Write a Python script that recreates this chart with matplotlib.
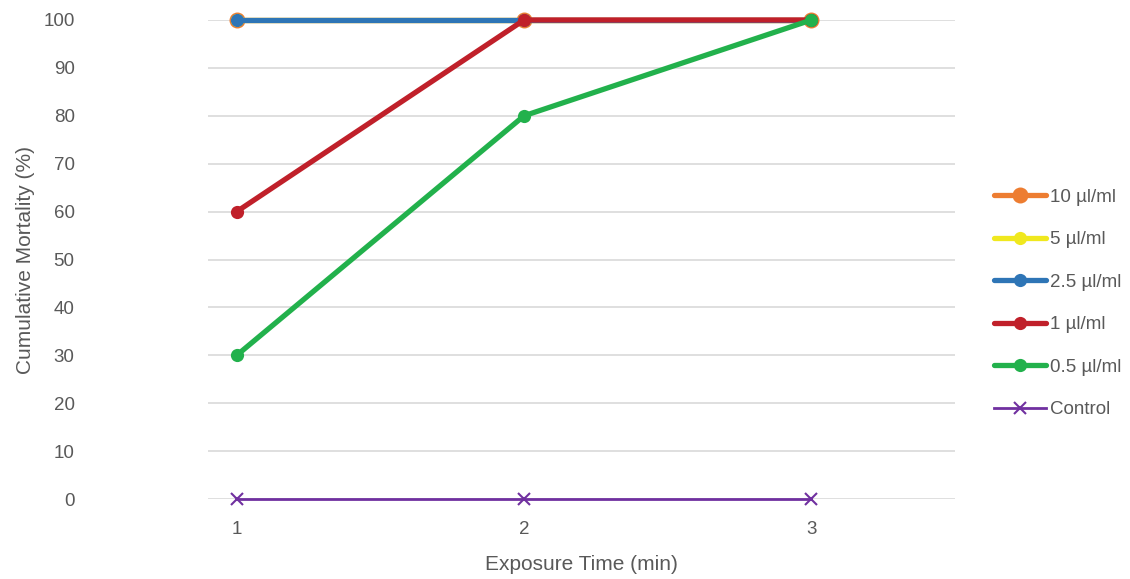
import matplotlib
matplotlib.use("Agg")
import matplotlib.pyplot as plt
from matplotlib import font_manager

times = [1, 2, 3]
series_names = ["10 µl/ml", "5 µl/ml", "2.5 µl/ml", "1 µl/ml", "0.5 µl/ml", "Control"]
s10 = [100, 100, 100]
s5 = [100, 100, 100]
s25 = [100, 100, 100]
s1 = [60, 100, 100]
s05 = [30, 80, 100]
control = [0, 0, 0]
yticks = [0, 10, 20, 30, 40, 50, 60, 70, 80, 90, 100]

names = {f.name for f in font_manager.fontManager.ttflist}
fam = ["Liberation Sans Narrow", "Liberation Sans", "DejaVu Sans"]
fam = [f for f in fam if f in names] or ["DejaVu Sans"]
plt.rcParams["font.family"] = fam

gray = "#595959"
fig = plt.figure(figsize=(11.3, 5.79), dpi=100)
ax = fig.add_axes([208/1130, 1-499/579, (955-208)/1130, (499-20)/579])

styles = [
    (s10, "#ED7D31", 11.5),
    (s5, "#F0E81E", 9.5),
    (s25, "#2E75B6", 9.5),
    (s1, "#C0202A", 9.5),
    (s05, "#22B14C", 9.5),
]
handles = []
for (vals, col, ms), name in zip(styles, series_names[:5]):
    h, = ax.plot(times, vals, color=col, lw=3.8, marker="o", ms=ms,
                 markeredgewidth=0, label=name, solid_capstyle="round",
                 zorder=3, clip_on=False)
    handles.append(h)
h, = ax.plot(times, control, color="#7030A0", lw=2, marker="x", ms=9,
             markeredgewidth=1.5, label=series_names[5], zorder=3, clip_on=False)
handles.append(h)

ax.set_xlim(0.9, 3.5)
ax.set_ylim(0, 100)
ax.set_yticks(yticks)
ax.set_xticks(times)
ax.grid(axis="y", color="#D9D9D9", lw=1.2, zorder=0)
ax.set_axisbelow(True)
for sp in ax.spines.values():
    sp.set_visible(False)
ax.tick_params(length=0, colors=gray, labelsize=13.5)
ax.tick_params(axis="y", pad=96)
ax.tick_params(axis="x", pad=16)
ax.set_xlabel("Exposure Time (min)", color=gray, fontsize=15, labelpad=12)
ax.set_ylabel("Cumulative Mortality (%)", color=gray, fontsize=15, labelpad=6)

leg = fig.legend(handles=handles, loc="upper left", bbox_to_anchor=(977/1130, 1-172/579),
                 frameon=False, fontsize=13.5, labelspacing=1.35, handlelength=2.8,
                 handletextpad=0.2, labelcolor=gray)

fig.savefig("out.png", dpi=100)
